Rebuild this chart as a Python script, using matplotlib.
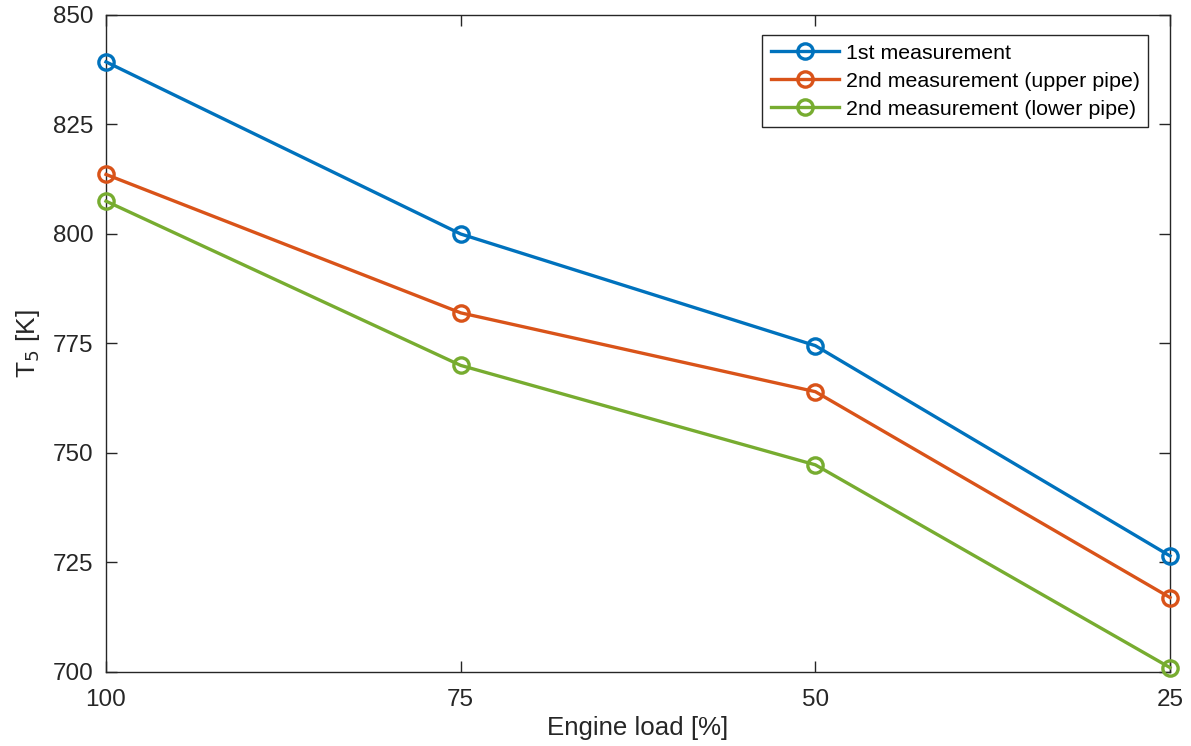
import matplotlib
matplotlib.use("Agg")
import matplotlib.pyplot as plt

load = [100, 75, 50, 25]
first = [839.3, 800.0, 774.5, 726.5]
second_upper = [813.6, 782.0, 764.0, 717.0]
second_lower = [807.5, 770.0, 747.3, 701.0]
labels = ["1st measurement", "2nd measurement (upper pipe)", "2nd measurement (lower pipe)"]
colors = ["#0072BD", "#D95319", "#77AC30"]
yticks = [700, 725, 750, 775, 800, 825, 850]

plt.rcParams['font.family'] = ['Liberation Sans', 'DejaVu Sans']

fig = plt.figure(figsize=(11.91, 7.46), dpi=100)
ax = fig.add_axes([0.089, 0.0992, 0.8934, 0.8807])

for y, lab, c in zip([first, second_upper, second_lower], labels, colors):
    ax.plot(load, y, '-o', color=c, lw=2.4, ms=11, mfc='none', mew=2.4, label=lab, clip_on=False, zorder=3)

ax.set_xlim(100, 25)
ax.set_ylim(700, 850)
ax.set_xticks(load)
ax.set_yticks(yticks)
ax.tick_params(direction='in', length=8, width=1, colors='#262626', labelsize=17.5,
               top=True, right=True)
ax.tick_params(axis='x', pad=12)
ax.tick_params(axis='y', pad=9)
for s in ax.spines.values():
    s.set_color('#262626')
    s.set_linewidth(1)
ax.set_xlabel("Engine load [%]", fontsize=18.6, color='#262626', labelpad=4)
ax.set_ylabel("T$_5$ [K]", fontsize=19, color='#262626', labelpad=8)

leg = ax.legend(loc='upper right', bbox_to_anchor=(0.9795, 0.9695), fontsize=15.4, fancybox=False,
                edgecolor='#262626', framealpha=1, handlelength=3.2, borderpad=0.4,
                labelspacing=0.42, handletextpad=0.3, borderaxespad=0)
leg.get_frame().set_linewidth(1)

fig.savefig("out.png", dpi=100)
